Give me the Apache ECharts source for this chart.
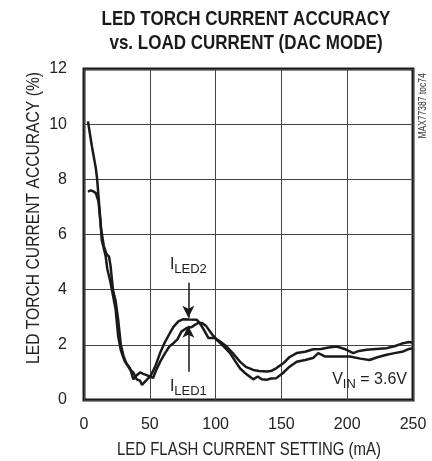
<!DOCTYPE html>
<html>
<head>
<meta charset="utf-8">
<script src="https://cdn.jsdelivr.net/npm/echarts@6/dist/echarts.min.js"></script>
<style>
html,body{margin:0;padding:0;background:#fff;}
#c{width:432px;height:461px;}
</style>
</head>
<body>
<div id="c"></div>
<script>
var titleLines = ['LED TORCH CURRENT ACCURACY', 'vs. LOAD CURRENT (DAC MODE)'];
var xAxisTitle = 'LED FLASH CURRENT SETTING (mA)';
var yAxisTitle = 'LED TORCH CURRENT ACCURACY (%)';
var xTicks = [0, 50, 100, 150, 200, 250];
var yTicks = [0, 2, 4, 6, 8, 10, 12];

var iled1X = [3,6,9,10,12,13.5,15,16.5,17.7,20,22,24,26,28,31,35,37.5,40,42.6,45,47.6,50,52.5,55,58,61.6,65,68,71,74,78,82,86.9,90,93,97,100.8,105,111,115,118.5,123,128.6,132,135,138.8,142,146,151,156,161.6,168,174,178,183,192,202,210,217,223,230,236,242.6,247,250];
var iled1Y = [10.1,9.2,8.4,8.0,6.8,5.8,5.5,5.2,4.75,4.3,3.8,3.3,2.3,1.8,1.4,1.15,0.75,0.9,1.0,0.95,0.9,0.85,0.8,1.1,1.4,1.7,1.95,2.06,2.2,2.48,2.61,2.65,2.8,2.78,2.67,2.4,2.18,2.0,1.7,1.4,1.15,0.95,0.75,0.85,0.75,0.73,0.78,0.79,0.97,1.2,1.39,1.45,1.52,1.7,1.58,1.58,1.58,1.5,1.45,1.55,1.64,1.7,1.76,1.85,1.88];

var iled2X = [3,5,7,9,11,13,15,17,19,20.2,22,24,26,28,30,32,35,37.5,40,42.6,44,46,48.9,51,54,57.8,61,65.3,68,71.7,75.5,80,85.6,88,91,94.5,99.5,104,108.4,113,118.5,123,128.6,133,138.8,142,146,151.4,156,161.6,168,174.2,180,186,192,198,204.6,209,214.8,222,230,236,242.6,247,250];
var iled2Y = [7.55,7.6,7.57,7.5,7.2,6.2,5.6,5.3,5.2,4.85,4.0,3.6,2.9,2.0,1.6,1.35,1.1,1.0,0.75,0.7,0.55,0.65,0.79,0.91,1.2,1.7,2.05,2.43,2.65,2.85,2.93,2.92,2.91,2.79,2.55,2.25,2.25,2.1,1.94,1.7,1.39,1.2,1.09,1.05,1.03,1.05,1.15,1.33,1.55,1.7,1.75,1.84,1.85,1.9,1.94,1.85,1.7,1.78,1.82,1.85,1.88,1.95,2.06,2.1,2.08];

function pairs(xs, ys){ return xs.map(function(x,i){ return [x, ys[i]]; }); }

var font = '"Liberation Sans", Arial, sans-serif';
var ink = '#1a1a1a';
var txt = '#222';

var chart = echarts.init(document.getElementById('c'), null, {renderer:'canvas'});
chart.setOption({
  animation: false,
  backgroundColor: '#fff',
  grid: {left: 84, right: 19, top: 69, bottom: 61, show: true, borderColor: ink, borderWidth: 3, backgroundColor: 'transparent'},
  xAxis: {
    type: 'value', min: 0, max: 250, interval: 50,
    axisLine: {show: false}, axisTick: {show: false},
    axisLabel: {fontFamily: font, fontSize: 16, color: txt, margin: 17},
    splitLine: {show: true, lineStyle: {color: '#444', width: 1}}
  },
  yAxis: {
    type: 'value', min: 0, max: 12, interval: 2,
    axisLine: {show: false}, axisTick: {show: false},
    axisLabel: {fontFamily: font, fontSize: 16, color: txt, margin: 17},
    splitLine: {show: true, lineStyle: {color: '#444', width: 1}}
  },
  series: [
    {
      name: 'ILED1', type: 'line', data: pairs(iled1X, iled1Y), showSymbol: false,
      lineStyle: {color: ink, width: 2.5}, z: 3,
      markLine: {
        silent: true, symbol: ['none', 'arrow'], symbolSize: [9, 12],
        lineStyle: {color: ink, width: 1.5, type: 'solid'}, label: {show: false},
        data: [
          [{coord: [79.3, 4.25]}, {coord: [79.3, 2.98]}],
          [{coord: [79.3, 1.02]}, {coord: [79.3, 2.69]}]
        ]
      },
      markPoint: {
        silent: true, symbol: 'circle', symbolSize: 0,
        label: {
          show: true, position: 'inside', color: txt,
          rich: {
            i: {fontFamily: font, fontSize: 16, color: txt},
            s: {fontFamily: font, fontSize: 13, color: txt, padding: [9, 0, 0, 0], verticalAlign: 'bottom'}
          }
        },
        data: [
          {coord: [79.3, 4.9], label: {formatter: '{i|I}{s|LED2}'}},
          {coord: [79.3, 0.47], label: {formatter: '{i|I}{s|LED1}'}},
          {coord: [217, 0.73], label: {formatter: '{i|V}{s|IN}{i| = 3.6V}'}}
        ]
      }
    },
    {
      name: 'ILED2', type: 'line', data: pairs(iled2X, iled2Y), showSymbol: false,
      lineStyle: {color: ink, width: 2.5}, z: 3
    }
  ],
  graphic: [
    {type: 'text', x: 246, y: 19, scaleX: 0.81,
     style: {text: titleLines[0], fontFamily: font, fontWeight: 'bold', fontSize: 21, fill: ink, textAlign: 'center', textVerticalAlign: 'middle'}},
    {type: 'text', x: 246, y: 43, scaleX: 0.81,
     style: {text: titleLines[1], fontFamily: font, fontWeight: 'bold', fontSize: 21, fill: ink, textAlign: 'center', textVerticalAlign: 'middle'}},
    {type: 'text', x: 249, y: 450, scaleX: 0.83,
     style: {text: xAxisTitle, fontFamily: font, fontSize: 18, fill: txt, textAlign: 'center', textVerticalAlign: 'middle'}},
    {type: 'text', x: 34, y: 218, rotation: Math.PI/2, scaleX: 0.87,
     style: {text: yAxisTitle, fontFamily: font, fontSize: 18, fill: txt, textAlign: 'center', textVerticalAlign: 'middle'}},
    {type: 'text', x: 423, y: 106, rotation: Math.PI/2, scaleX: 0.85,
     style: {text: 'MAX77387 toc74', fontFamily: font, fontSize: 10, fill: '#333', textAlign: 'center', textVerticalAlign: 'middle'}}
  ]
});
</script>
</body>
</html>
